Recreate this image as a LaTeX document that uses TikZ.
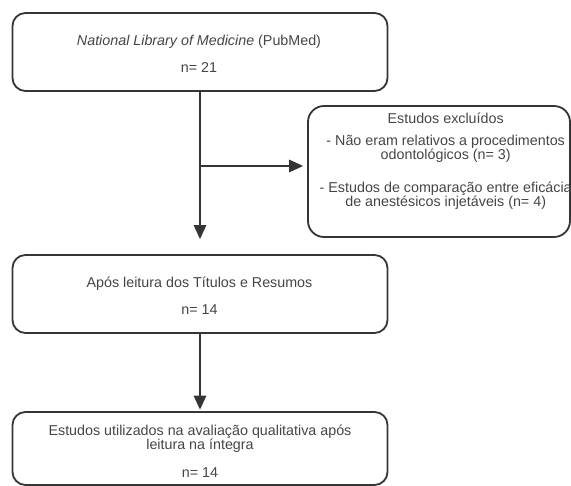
\documentclass[tikz,border=0pt]{standalone}
\usepackage{fontspec}
\setmainfont{Liberation Sans}
\usetikzlibrary{arrows.meta}
\definecolor{linec}{HTML}{353535}
\definecolor{textc}{HTML}{454545}
\begin{document}
\begin{tikzpicture}[x=1pt,y=1pt,
  box/.style={draw=linec,line width=1.8pt,rounded corners=13pt,inner sep=0pt},
  txt/.style={text=textc,font=\fontsize{14.3}{12.3}\selectfont,anchor=base,inner sep=0pt,align=center},
  arr/.style={draw=linec,line width=1.6pt,-{Triangle[length=14pt,width=12.5pt]}}]
\useasboundingbox (0,0) rectangle (571,486);
% boxes
\node[box,minimum width=375pt,minimum height=78pt] (b1) at (200,434) {};
\node[box,rounded corners=16pt,minimum width=262pt,minimum height=131pt] (b2) at (439,314.5) {};
\node[box,minimum width=375pt,minimum height=78pt] (b3) at (200,192) {};
\node[box,minimum width=375pt,minimum height=73pt] (b4) at (200,37.5) {};
% texts (base anchor = baseline of the last line)
\node[txt] (t11) at (199,440.5) {\textit{National Library of Medicine} (PubMed)};
\node[txt] (t12) at (199,413) {n= 21};
\node[txt] (t21) at (445.7,362.7) {Estudos excluídos};
\node[txt] (t22) at (445.7,326) {- Não eram relativos a procedimentos\\odontológicos (n= 3)};
\node[txt] (t24) at (445.7,279.3) {- Estudos de comparação entre eficácia\\de anestésicos injetáveis (n= 4)};
\node[txt] (t31) at (199.5,198.3) {Após leitura dos Títulos e Resumos};
\node[txt] (t32) at (199.5,171) {n= 14};
\node[txt] (t41) at (200,36) {Estudos utilizados na avaliação qualitativa após\\leitura na íntegra};
\node[txt] (t43) at (200,8.3) {n= 14};
% connectors
\coordinate (j) at (200,320);
\draw[arr,shorten >=15pt] (b1.south) -- (b3.north);
\draw[arr,shorten >=4pt] (j) -- (j -| b2.west);
\draw[arr,shorten >=1.5pt] (b3.south) -- (b4.north);
\end{tikzpicture}
\end{document}
